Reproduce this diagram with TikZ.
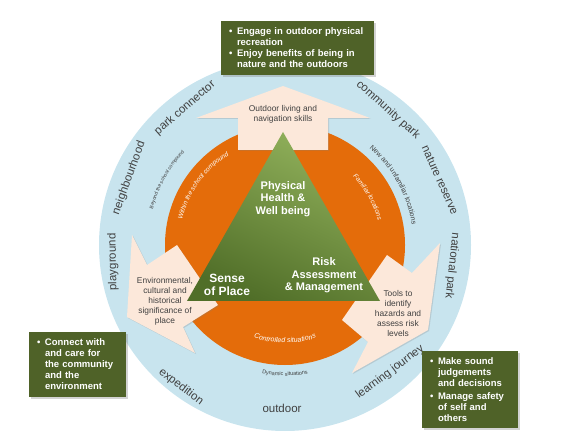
\documentclass[tikz,border=0pt]{standalone}
\usepackage{fontspec}
\setmainfont{Liberation Sans}
\usetikzlibrary{shadows,decorations.text}

\definecolor{ringblue}{RGB}{200,228,238}
\definecolor{ringorange}{RGB}{228,108,10}
\definecolor{peach}{RGB}{252,232,218}
\definecolor{boxgreen}{RGB}{79,98,40}
\definecolor{trilight}{RGB}{146,178,92}
\definecolor{tridark}{RGB}{80,110,40}
\definecolor{labelgray}{RGB}{64,64,64}

\newcommand{\itemdot}{\makebox[8pt][l]{\textbullet}}
\newcommand{\itemgap}{\hspace*{8pt}}

\tikzset{
  place/.style={font=\fontsize{11.5}{13}\selectfont, text=labelgray, inner sep=0pt},
  aim/.style={fill=peach, drop shadow={shadow xshift=1pt, shadow yshift=-1pt, opacity=0.25}},
  aimtext/.style={font=\fontsize{8.4}{10}\selectfont, text=labelgray, align=center, inner sep=0pt},
  corner/.style={font=\bfseries\fontsize{11}{12.5}\selectfont, text=white, align=center, inner sep=0pt},
  goal/.style={fill=boxgreen, text=white, font=\bfseries\fontsize{9.5}{11}\selectfont, align=left,
    inner xsep=8pt, inner ysep=0pt, drop shadow={shadow xshift=2pt, shadow yshift=-2pt, opacity=0.35}},
  arctext/.style={decorate, decoration={text along path, text align=center, text color=#1}}
}

\begin{document}
\begin{tikzpicture}[x=1pt, y=1pt]
\useasboundingbox (0,0) rectangle (567,439);
\coordinate (hub) at (285,194);

\fill[ringblue] (hub) circle[radius=186];
\fill[ringorange] (hub) circle[radius=120];

\begin{scope}[shift={(hub)}]
    \path[arctext=white, decoration={text={|\fontsize{6.5}{7}\selectfont\itshape|Within the school compound}}]
        (172:106) arc[start angle=172, end angle=116, radius=106];
    \path[arctext=white, decoration={text={|\fontsize{6.5}{7}\selectfont\itshape|Familiar locations}}]
        (54:96) arc[start angle=54, end angle=6, radius=96];
    \path[arctext=white, decoration={text={|\fontsize{7}{8}\selectfont\itshape|Controlled situations}}]
        (235:98) arc[start angle=235, end angle=305, radius=98];
    \path[arctext=labelgray, decoration={text={|\fontsize{5}{6}\selectfont|Beyond the school compound}}]
        (170:137) arc[start angle=170, end angle=132, radius=137];
    \path[arctext=labelgray, decoration={text={|\fontsize{7}{8}\selectfont|New and unfamiliar locations}}]
        (58:128.5) arc[start angle=58, end angle=0, radius=128.5];
    \path[arctext=labelgray, decoration={text={|\fontsize{5.5}{6}\selectfont|Dynamic situations}}]
        (245:131) arc[start angle=245, end angle=295, radius=131];
\end{scope}

\fill[aim] (283,353) -- (370,321) -- (328,321) -- (328,289) -- (238,289) -- (238,321) -- (196,321) -- cycle;
\fill[aim] (127,122) -- (132,204) -- (147,174) -- (177,194) -- (218,134) -- (183,112) -- (195,86) -- cycle;
\fill[aim] (428,109) -- (440,196) -- (412,166) -- (387,184) -- (342,119) -- (368,97) -- (352,66) -- cycle;

\shade[top color=trilight, bottom color=tridark, shading angle=-25] (283,307) -- (187,138) -- (380,138) -- cycle;

\node[aimtext] (skills) at (283,325) {Outdoor living and\\navigation skills};
\node[aimtext] (heritage) at (165,138) {Environmental,\\cultural and\\historical\\significance of\\place};
\node[aimtext] (tools) at (398,126) {Tools to\\identify\\hazards and\\assess risk\\levels};

\node[corner] (health) at (283,240) {Physical\\Health \&\\Well being};
\node[corner, font=\bfseries\fontsize{12}{13}\selectfont] (sense) at (227,154.5) {Sense\\of Place};
\node[corner] (risk) at (324,163.5) {Risk\\Assessment\\\& Management};

\node[place, rotate=41] (connector) at (185,331) {park connector};
\node[place, rotate=70] (neighbourhood) at (129,261) {neighbourhood};
\node[place, rotate=91] (playground) at (113,177) {playground};
\node[place, rotate=-37] (expedition) at (181,52) {expedition};
\node[place] (outdoor) at (282,31) {outdoor};
\node[place, rotate=37] (journey) at (390,67) {learning journey};
\node[place, rotate=-96] (national) at (452,173) {national park};
\node[place, rotate=-66] (reserve) at (440,259) {nature reserve};
\node[place, rotate=-42] (community) at (388,329) {community park};

\node[goal, text width=137pt, minimum height=54pt] (recreation) at (297.5,391)
    {\itemdot Engage in outdoor physical\\\itemgap recreation\\\itemdot Enjoy benefits of being in\\\itemgap nature and the outdoors};
\node[goal, text width=81pt, minimum height=65pt] (care) at (77.5,74.5)
    {\itemdot Connect with\\\itemgap and care for\\\itemgap the community\\\itemgap and the\\\itemgap environment};
\node[goal, text width=80pt, minimum height=77pt] (judgement) at (470,49.5)
    {\itemdot Make sound\\\itemgap judgements\\\itemgap and decisions\\[2pt]\itemdot Manage safety\\\itemgap of self and\\\itemgap others};
\end{tikzpicture}
\end{document}
